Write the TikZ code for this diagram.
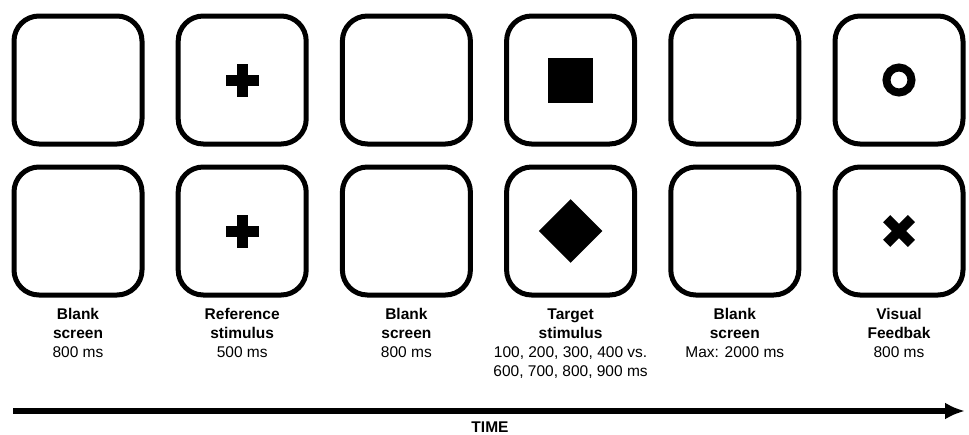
\documentclass[tikz,border=0pt]{standalone}
\usepackage{fontspec}
\setmainfont{Liberation Sans}
\usetikzlibrary{arrows.meta}

\tikzset{
    screen/.style={draw, line width=5pt, rounded corners=25pt,
        minimum width=128pt, minimum height=128pt, inner sep=0pt},
    caption/.style={align=center, anchor=north, inner sep=0pt,
        font=\fontsize{15.5}{19}\selectfont}
}

\begin{document}
\begin{tikzpicture}[x=1pt, y=-1pt]

\useasboundingbox (0,0) rectangle (969,434);

% Screen layout
\def\colA{78}
\def\colStep{164.2}
\def\rowA{80}
\def\rowB{231}

% Draw screens
\foreach \i in {1,...,6} {
    \node[screen] (top\i) at ({\colA+(\i-1)*\colStep},\rowA) {};
    \node[screen] (bot\i) at ({\colA+(\i-1)*\colStep},\rowB) {};
}

% Reference stimulus (cross)
\foreach \s in {top2,bot2} {
    \fill ([shift={(-16.5,-5.5)}]\s.center) rectangle ([shift={(16.5,5.5)}]\s.center);
    \fill ([shift={(-5.5,-16.5)}]\s.center) rectangle ([shift={(5.5,16.5)}]\s.center);
}

% Target stimulus (square and diamond)
\fill ([shift={(-22.5,-22.5)}]top4.center) rectangle ([shift={(22.5,22.5)}]top4.center);
\begin{scope}[shift={(bot4.center)}, rotate=45]
    \fill (-22.5,-22.5) rectangle (22.5,22.5);
\end{scope}

% Feedback (ring and cross)
\draw[line width=8pt] (top6.center) circle (12.5);
\begin{scope}[shift={(bot6.center)}, rotate=45]
    \fill (-17.5,-5) rectangle (17.5,5);
    \fill (-5,-17.5) rectangle (5,17.5);
\end{scope}

% Captions
\node[caption] (lab1) at (top1 |- 0,308.5) {\textbf{Blank}\\\textbf{screen}\\800 ms};
\node[caption] (lab2) at (top2 |- 0,308.5) {\textbf{Reference}\\\textbf{stimulus}\\500 ms};
\node[caption] (lab3) at (top3 |- 0,308.5) {\textbf{Blank}\\\textbf{screen}\\800 ms};
\node[caption] (lab4) at (top4 |- 0,308.5) {\textbf{Target}\\\textbf{stimulus}\\100, 200, 300, 400 vs.\\600, 700, 800, 900 ms};
\node[caption] (lab5) at (top5 |- 0,308.5) {\textbf{Blank}\\\textbf{screen}\\Max: 2000 ms};
\node[caption] (lab6) at (top6 |- 0,308.5) {\textbf{Visual}\\\textbf{Feedbak}\\800 ms};

% Time axis
\coordinate (tstart) at (13,411);
\coordinate (tend) at (965,411);
\draw[line width=6pt, -{Latex[length=20pt,width=17pt]}] (tstart) -- (tend);
\node[font=\fontsize{15.5}{19}\selectfont\bfseries] (time) at (490,427) {TIME};

\end{tikzpicture}
\end{document}
